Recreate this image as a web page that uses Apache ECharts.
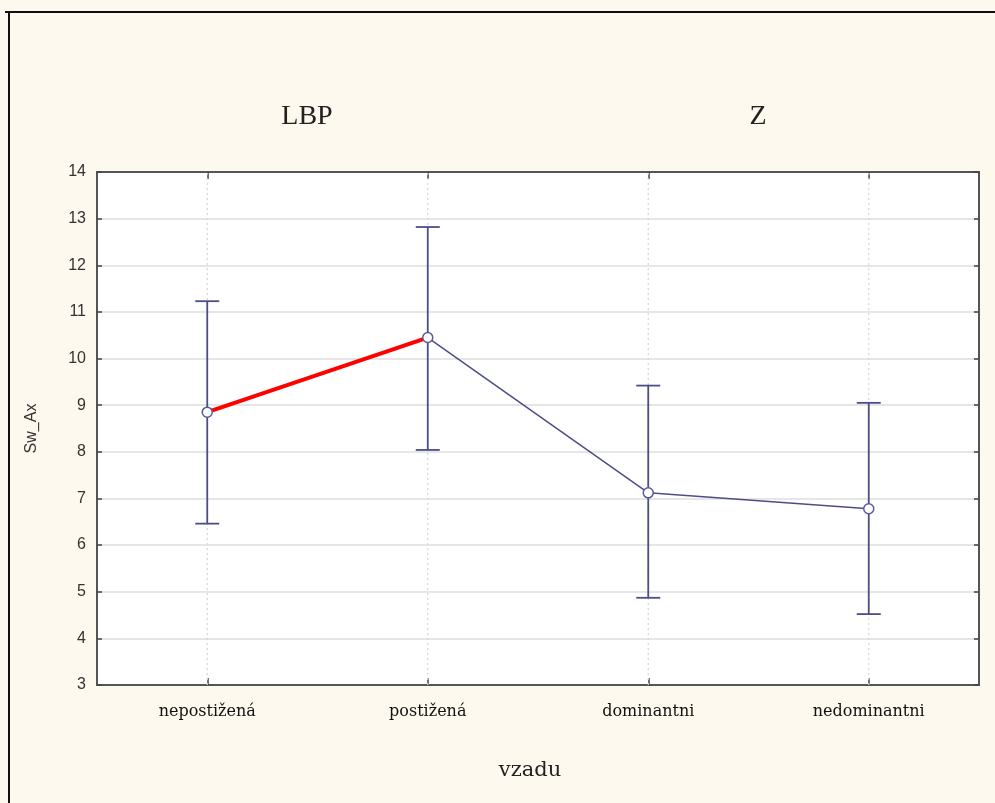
<!DOCTYPE html>
<html>
<head>
<meta charset="utf-8">
<script src="https://cdn.jsdelivr.net/npm/echarts@6/dist/echarts.min.js"></script>
<style>
html,body{margin:0;padding:0;background:#fdf9ee;}
#c{width:995px;height:803px;}
</style>
</head>
<body>
<div id="c"></div>
<script>
const categories = ['nepostižená', 'postižená', 'dominantni', 'nedominantni'];
const means = [8.85, 10.45, 7.12, 6.78];
const upper = [11.23, 12.82, 9.42, 9.05];
const lower = [6.46, 8.04, 4.87, 4.52];
const redSegment = [8.85, 10.45, null, null];
const yTicks = [3, 14, 1];
const groupLabels = ['LBP', 'Z'];

const chart = echarts.init(document.getElementById('c'), null, {renderer: 'canvas'});
const lineBlue = '#4d4d88';
const serif = '"Liberation Serif", "DejaVu Serif", serif';
const wideSerif = '"DejaVu Serif", "Liberation Serif", serif';
const sans = '"Liberation Sans", Arial, sans-serif';

const errData = categories.map((c, i) => [i, lower[i], upper[i]]);
const vgridData = categories.map((c, i) => [i]);

chart.setOption({
  backgroundColor: '#fdf9ee',
  animation: false,
  grid: {left: 97, right: 16, top: 172, bottom: 118, show: true,
         backgroundColor: '#ffffff', borderColor: '#555555', borderWidth: 2},
  graphic: [
    {type: 'line', shape: {x1: 5, y1: 12, x2: 995, y2: 12}, style: {stroke: '#111', lineWidth: 2}},
    {type: 'line', shape: {x1: 9, y1: 12, x2: 9, y2: 803}, style: {stroke: '#111', lineWidth: 2}},
    {type: 'text', style: {text: groupLabels[0], x: 307, y: 117, font: '28px ' + serif, fill: '#222', textAlign: 'center', textVerticalAlign: 'middle'}},
    {type: 'text', style: {text: groupLabels[1], x: 758, y: 117, font: '28px ' + serif, fill: '#222', textAlign: 'center', textVerticalAlign: 'middle'}},
    {type: 'text', style: {text: 'vzadu', x: 530, y: 771, font: '21px ' + wideSerif, fill: '#222', textAlign: 'center', textVerticalAlign: 'middle'}}
  ],
  xAxis: [
    {type: 'category', data: categories, position: 'bottom', boundaryGap: true,
     axisLine: {show: true, lineStyle: {color: '#555', width: 2}},
     axisTick: {show: true, inside: true, alignWithLabel: true, length: 7, lineStyle: {color: '#444', width: 1.5}},
     axisLabel: {margin: 19, fontFamily: wideSerif, fontSize: 16, color: '#111'},
     splitLine: {show: false}},
    {type: 'category', data: categories, position: 'top', boundaryGap: true,
     axisLine: {show: true, lineStyle: {color: '#555', width: 2}},
     axisTick: {show: true, inside: true, alignWithLabel: true, length: 7, lineStyle: {color: '#444', width: 1.5}},
     axisLabel: {show: false}, splitLine: {show: false}}
  ],
  yAxis: [
    {type: 'value', min: yTicks[0], max: yTicks[1], interval: yTicks[2], position: 'left',
     name: 'Sw_Ax', nameLocation: 'middle', nameGap: 57, nameRotate: 90,
     nameTextStyle: {fontFamily: sans, fontSize: 16, color: '#333'},
     axisLine: {show: true, lineStyle: {color: '#555', width: 2}},
     axisTick: {show: true, inside: true, length: 5, lineStyle: {color: '#444', width: 1.5}},
     axisLabel: {margin: 11, fontFamily: sans, fontSize: 16, color: '#333'},
     splitLine: {show: true, lineStyle: {color: '#dedede', width: 1.5}}},
    {type: 'value', min: yTicks[0], max: yTicks[1], interval: yTicks[2], position: 'right',
     axisLine: {show: true, lineStyle: {color: '#555', width: 2}},
     axisTick: {show: true, inside: true, length: 5, lineStyle: {color: '#444', width: 1.5}},
     axisLabel: {show: false}, splitLine: {show: false}}
  ],
  series: [
    {type: 'custom', data: vgridData, z: 1, silent: true,
     renderItem: function (params, api) {
       const x = api.value(0);
       const a = api.coord([x, yTicks[0]]);
       const b = api.coord([x, yTicks[1]]);
       return {type: 'line', shape: {x1: a[0], y1: a[1], x2: b[0], y2: b[1]},
               style: {stroke: '#d4d4d4', lineWidth: 1.2, lineDash: [2, 3]}};
     }},
    {type: 'line', data: means, symbol: 'none', lineStyle: {color: lineBlue, width: 1.5}, z: 3},
    {type: 'custom', data: errData, z: 4,
     renderItem: function (params, api) {
       const x = api.value(0);
       const lo = api.coord([x, api.value(1)]);
       const hi = api.coord([x, api.value(2)]);
       const w = 12;
       const st = {stroke: lineBlue, lineWidth: 1.8};
       return {type: 'group', children: [
         {type: 'line', shape: {x1: lo[0], y1: lo[1], x2: hi[0], y2: hi[1]}, style: st},
         {type: 'line', shape: {x1: lo[0] - w, y1: lo[1], x2: lo[0] + w, y2: lo[1]}, style: st},
         {type: 'line', shape: {x1: hi[0] - w, y1: hi[1], x2: hi[0] + w, y2: hi[1]}, style: st}
       ]};
     }},
    {type: 'line', data: redSegment, symbol: 'none', lineStyle: {color: '#ff0000', width: 4}, z: 5},
    {type: 'line', data: means, symbol: 'circle', symbolSize: 10, showSymbol: true,
     lineStyle: {opacity: 0}, itemStyle: {color: '#ffffff', borderColor: '#5a5a96', borderWidth: 1.5}, z: 6}
  ]
});
</script>
</body>
</html>
